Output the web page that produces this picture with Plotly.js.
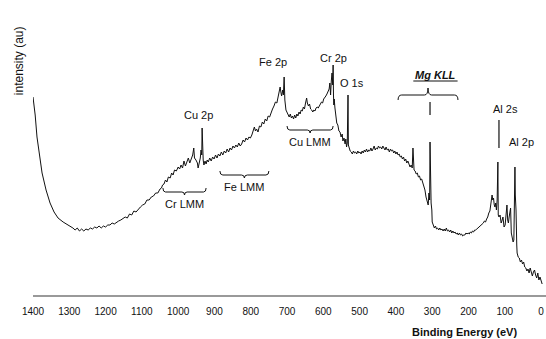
<!DOCTYPE html>
<html>
<head>
<meta charset="utf-8">
<script src="https://cdn.plot.ly/plotly-3.0.1.min.js"></script>
<style>
html,body{margin:0;padding:0;background:#fff;}
#chart{width:546px;height:339px;}
</style>
</head>
<body>
<div id="chart"></div>
<script>
// Binding energy (eV) and intensity (au)
var bindingEnergy = [
 1400,1394,1389,1381,1375,1364,1353,1342,1331,1317,
 1303,1290,1284,1278,1272,1266,1260,1254,1248,1242,
 1236,1230,1224,1218,1212,1206,1200,1194,1188,1182,
 1176,1170,1164,1158,1152,1146,1140,1134,1128,1122,
 1116,1110,1104,1098,1092,1086,1080,1074,1068,1062,
 1056,1050,1046,1043,1039,1035,1031,1027,1022,1018,
 1014,1010,1005,1000,996,992,988,984,980,976,
 972,968,964,960,957,955,951,947,945,942,
 939,937,935,934,933,931,929,926,923,920,
 917,913,909,905,901,897,893,889,885,881,
 877,873,869,865,861,857,853,849,845,841,
 837,833,829,825,821,817,813,809,805,801,
 797,793,790,787,784,780,776,772,768,764,
 760,756,752,748,744,740,736,732,728,725,
 722,719,717,715,712,710,708,707,706,703,
 700,697,694,691,688,685,682,679,676,673,
 670,667,664,661,658,655,652,649,646,644,
 641,638,635,632,629,626,623,620,617,614,
 611,608,605,602,599,596,593,590,587,584,
 582,580,578,576,574,573,572,571,570,568,
 566,563,560,557,554,551,548,546,543,540,
 538,536,534,532,531,529,526,523,520,517,
 514,511,508,505,502,499,496,493,490,487,
 484,481,478,475,472,469,466,463,460,457,
 454,451,448,445,442,439,436,433,430,427,
 424,421,418,415,412,409,406,403,400,397,
 394,391,388,385,382,379,376,373,370,367,
 364,361,358,355,353,352,350,347,344,341,
 338,335,332,329,326,323,320,317,314,311,
 309,307,306,305,303,301,300,297,294,291,
 288,285,282,279,276,273,270,267,264,261,
 258,255,252,249,246,243,240,237,234,231,
 228,225,222,219,216,213,210,207,204,201,
 198,195,192,189,186,183,180,177,174,171,
 168,165,162,159,156,153,150,147,144,141,
 138,135,133,131,129,127,125,123,121,119,
 118,116,113,110,108,105,102,99,96,94,
 92,90,88,86,84,82,80,77,75,72,
 71,69,67,66,63,60,57,54,51,48,
 45,42,39,36,33,30,27,24,21,18,
 15,12,9,6,3,0,-3
];
var intensity = [
 198,180,158,137,122,105,92,83,77,73,
 70,67,65,67,64,66,64,66,65,67,
 66,68,67,69,67,69,68,70,70,72,
 71,73,74,75,77,78,77,81,80,84,
 83,86,88,90,91,95,95,98,99,102,
 102,106,107,110,111,115,113,118,117,122,
 120,125,124,128,126,130,127,134,129,133,
 137,132,136,140,147,137,135,132,127,131,
 137,145,140,167,150,135,130,134,131,135,
 133,137,134,138,136,140,137,141,139,143,
 140,144,142,146,143,147,145,149,147,150,
 148,152,149,151,155,153,157,155,158,157,
 160,165,168,164,166,163,169,168,173,171,
 176,174,179,178,183,186,189,193,192,198,
 203,208,203,199,205,200,218,205,195,185,
 182,180,178,181,177,179,176,180,177,181,
 179,183,181,185,184,188,186,192,197,192,
 189,191,186,185,183,185,184,187,188,187,
 190,191,193,192,196,197,199,201,203,206,
 212,200,214,222,210,230,200,190,196,187,
 178,172,170,164,163,158,161,154,157,151,
 156,148,152,200,150,146,144,143,141,144,
 142,143,141,144,142,143,141,144,142,145,
 143,146,143,145,144,147,144,146,149,145,
 147,146,149,147,148,146,149,147,145,148,
 145,146,143,146,144,145,142,144,141,143,
 140,141,138,139,136,138,134,136,132,134,
 130,128,130,127,147,128,125,124,121,122,
 118,119,115,116,112,108,105,98,95,90,
 102,95,153,100,92,85,73,70,67,69,
 66,67,65,67,65,66,64,66,64,67,
 64,65,63,65,62,64,62,63,61,62,
 60,62,60,61,59,60,60,62,61,62,
 61,63,62,64,63,65,65,66,67,68,
 68,70,71,72,74,73,76,78,82,84,
 92,100,95,97,90,88,92,85,95,133,
 80,78,80,72,74,78,68,70,82,90,
 75,72,78,85,87,62,58,53,55,128,
 100,85,50,42,38,37,33,35,31,33,
 28,27,24,26,22,27,23,19,23,25,
 20,17,22,15,18,14,11
];
var tickValues = [1400,1300,1200,1100,1000,900,800,700,600,500,400,300,200,100,0];
var tickLabels = ["1400","1300","1200","1100","1000","900","800","700","600","500","400","300","200","100","0"];

// peak labels: text, energy, height
var peakLabels = ["Cu 2p","Fe 2p","Cr 2p","O 1s","Al 2s","Al 2p"];
var peakLabelX = [945,739,573,521,98,54];
var peakLabelY = [180,233,237,212,186,153];

// Auger regions: label, start/end energy, label height
var augerLabels = ["Cr LMM","Fe LMM","Cu LMM"];
var augerFrom = [1042,885,700];
var augerTo = [923,750,573];
var augerBraceY = [103,120,165];
var augerLabelY = [91,108,153];

var FONT = "Liberation Sans, Arial, sans-serif";

function braceDown(x0, x1, yEnd, yLine, yTip){
  var xm = (x0 + x1) / 2, d = (x1 - x0) * 0.06;
  return "M" + x0 + "," + yEnd +
    " Q" + x0 + "," + yLine + " " + (x0 + d) + "," + yLine +
    " L" + (xm - d) + "," + yLine +
    " Q" + xm + "," + yLine + " " + xm + "," + yTip +
    " Q" + xm + "," + yLine + " " + (xm + d) + "," + yLine +
    " L" + (x1 - d) + "," + yLine +
    " Q" + x1 + "," + yLine + " " + x1 + "," + yEnd;
}

var shapes = [];
var annotations = [];

for (var i = 0; i < augerLabels.length; i++) {
  shapes.push({type:"path", xref:"x", yref:"y",
    path: braceDown(augerFrom[i], augerTo[i], augerBraceY[i] + 4, augerBraceY[i], augerBraceY[i] - 3),
    line:{color:"#111", width:1}});
  annotations.push({x:(augerFrom[i] + augerTo[i]) / 2, y:augerLabelY[i], xref:"x", yref:"y",
    text:augerLabels[i], showarrow:false, font:{family:FONT, size:11, color:"#111"}});
}
for (var j = 0; j < peakLabels.length; j++) {
  annotations.push({x:peakLabelX[j], y:peakLabelY[j], xref:"x", yref:"y",
    text:peakLabels[j], showarrow:false, font:{family:FONT, size:11, color:"#111"}});
}
// Mg KLL brace (tip pointing up), marker and underlined label
shapes.push({type:"path", xref:"x", yref:"y",
  path: braceDown(394, 229, 195, 200, 207), line:{color:"#111", width:1}});
shapes.push({type:"line", xref:"x", yref:"y", x0:306, x1:306, y0:180, y1:193, line:{color:"#111", width:1.2}});
shapes.push({type:"line", xref:"x", yref:"y", x0:116, x1:116, y0:147, y1:175, line:{color:"#111", width:1.2}});
shapes.push({type:"line", xref:"x", yref:"y", x0:352, x1:230, y0:214, y1:214, line:{color:"#111", width:1}});
annotations.push({x:292, y:220, xref:"x", yref:"y", text:"<b><i>Mg KLL</i></b>", showarrow:false,
  font:{family:FONT, size:11, color:"#111"}});

// axis titles
annotations.push({x:0.842, y:-0.125, xref:"paper", yref:"paper", xanchor:"center", yanchor:"middle",
  text:"<b>Binding Energy (eV)</b>", showarrow:false, font:{family:FONT, size:11, color:"#111"}});
annotations.push({x:-0.027, y:0.793, xref:"paper", yref:"paper", xanchor:"center", yanchor:"middle",
  text:"intensity (au)", textangle:-90, showarrow:false, font:{family:FONT, size:12, color:"#111"}});

var trace = {x:bindingEnergy, y:intensity, type:"scatter", mode:"lines",
  line:{color:"#111", width:1}, hoverinfo:"skip"};

var layout = {
  width:546, height:339,
  margin:{l:33, r:0, t:0, b:44},
  paper_bgcolor:"#fff", plot_bgcolor:"#fff",
  showlegend:false,
  xaxis:{range:[1400,-13.6], showgrid:false, zeroline:false, showline:true, linecolor:"#999", linewidth:1.5,
    tickmode:"array", tickvals:tickValues, ticktext:tickLabels, ticks:"outside", ticklen:6, tickcolor:"rgba(0,0,0,0)",
    tickfont:{family:FONT, size:10, color:"#111"}},
  yaxis:{range:[0,295], showgrid:false, zeroline:false, showline:false, showticklabels:false, ticks:""},
  shapes:shapes,
  annotations:annotations
};

Plotly.newPlot("chart", [trace], layout, {staticPlot:true, displayModeBar:false});
</script>
</body>
</html>
